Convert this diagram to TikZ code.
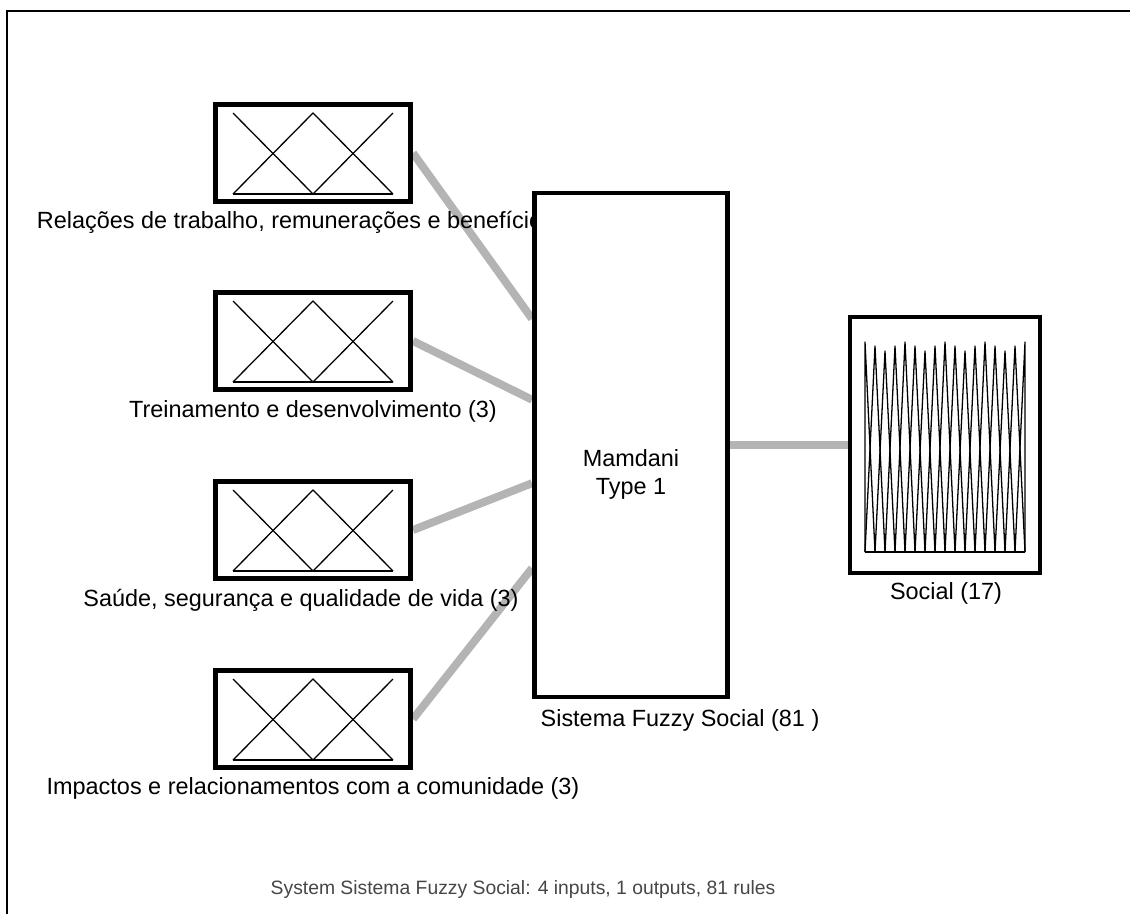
\documentclass[tikz,border=0pt]{standalone}
\usepackage{fontspec}
\setmainfont{Liberation Sans}
\usetikzlibrary{calc,backgrounds}
\definecolor{linkgray}{RGB}{180,180,180}
\definecolor{notegray}{RGB}{70,70,70}
\tikzset{
  mfbox/.style={draw, line width=4.2pt, fill=white, inner sep=0pt,
    minimum width=5.85cm, minimum height=2.91cm},
  sysbox/.style={draw, line width=4.2pt, fill=white, inner sep=0pt,
    minimum width=5.79cm, minimum height=15.12cm},
  outbox/.style={draw, line width=4.2pt, fill=white, inner sep=0pt,
    minimum width=5.7cm, minimum height=7.68cm},
  mfline/.style={line width=1.1pt, line join=round},
  link/.style={line width=6.8pt, draw=linkgray},
  lbl/.style={font=\fontsize{20}{24}\selectfont},
}
\begin{document}
\begin{tikzpicture}[x=0.03cm, y=-0.03cm]
    \useasboundingbox (0,0) rectangle (1130,914);
    % Rahmen
    \draw[line width=1.7pt] (7,914) -- (7,11) -- (1130,11);

    % Eingaenge
    \node[mfbox] (in1) at (313,153) {};
    \node[mfbox] (in2) at (313,341) {};
    \node[mfbox] (in3) at (313,530) {};
    \node[mfbox] (in4) at (313,719) {};
    \foreach \n in {in1,in2,in3,in4} {
      \begin{scope}[shift={(\n.center)}]
        \draw[mfline] (-80,-40) -- (0,41);
        \draw[mfline] (-80,41) -- (0,-40) -- (80,41);
        \draw[mfline] (0,41) -- (80,-40);
        \draw[mfline] (-80,41) -- (80,41);
      \end{scope}
    }
    \node[lbl] (l1) at (313,222) {Relações de trabalho, remunerações e benefícios (3)};
    \node[lbl] (l2) at (313,411) {Treinamento e desenvolvimento (3)};
    \node[lbl] (l3) at (301,600) {Saúde, segurança e qualidade de vida (3)};
    \node[lbl] (l4) at (313,788) {Impactos e relacionamentos com a comunidade (3)};

    % Regelbasis
    \node[sysbox] (sys) at (631,445) {};
    \node[lbl, align=center] (mam) at (631,474) {Mamdani\\Type 1};
    \node[lbl] (lsys) at (680,720) {Sistema Fuzzy Social (81 )};

    % Ausgang
    \node[outbox] (out) at (945,445) {};
    \begin{scope}[shift={(out.center)}]
      \foreach \i/\h in {0/-103,1/-99,2/-94,3/-99,4/-103,5/-99,6/-94,7/-99,8/-103,
                         9/-99,10/-94,11/-99,12/-103,13/-99,14/-94,15/-99,16/-103} {
        \pgfmathsetmacro\xp{-80+10*\i}
        \pgfmathsetmacro\xl{max(-80,\xp-10)}
        \pgfmathsetmacro\xr{min(80,\xp+10)}
        \draw[mfline] (\xl,107) -- (\xp,\h) -- (\xr,107);
      }
      \draw[mfline] (-80,107) -- (80,107);
    \end{scope}
    \node[lbl] (lout) at (946,593) {Social (17)};

    % Verbindungen
    \begin{pgfonlayer}{background}
      \draw[link] (in1.east) -- ($(sys.north west)!0.252!(sys.south west)$);
      \draw[link] (in2.east) -- ($(sys.north west)!0.411!(sys.south west)$);
      \draw[link] (in3.east) -- ($(sys.north west)!0.575!(sys.south west)$);
      \draw[link] (in4.east) -- ($(sys.north west)!0.742!(sys.south west)$);
      \draw[link] (sys.east) -- (out.west);
    \end{pgfonlayer}

    \node[font=\fontsize{16.5}{20}\selectfont, text=notegray] (note) at (523,889)
      {System Sistema Fuzzy Social: 4 inputs, 1 outputs, 81 rules};
\end{tikzpicture}
\end{document}
